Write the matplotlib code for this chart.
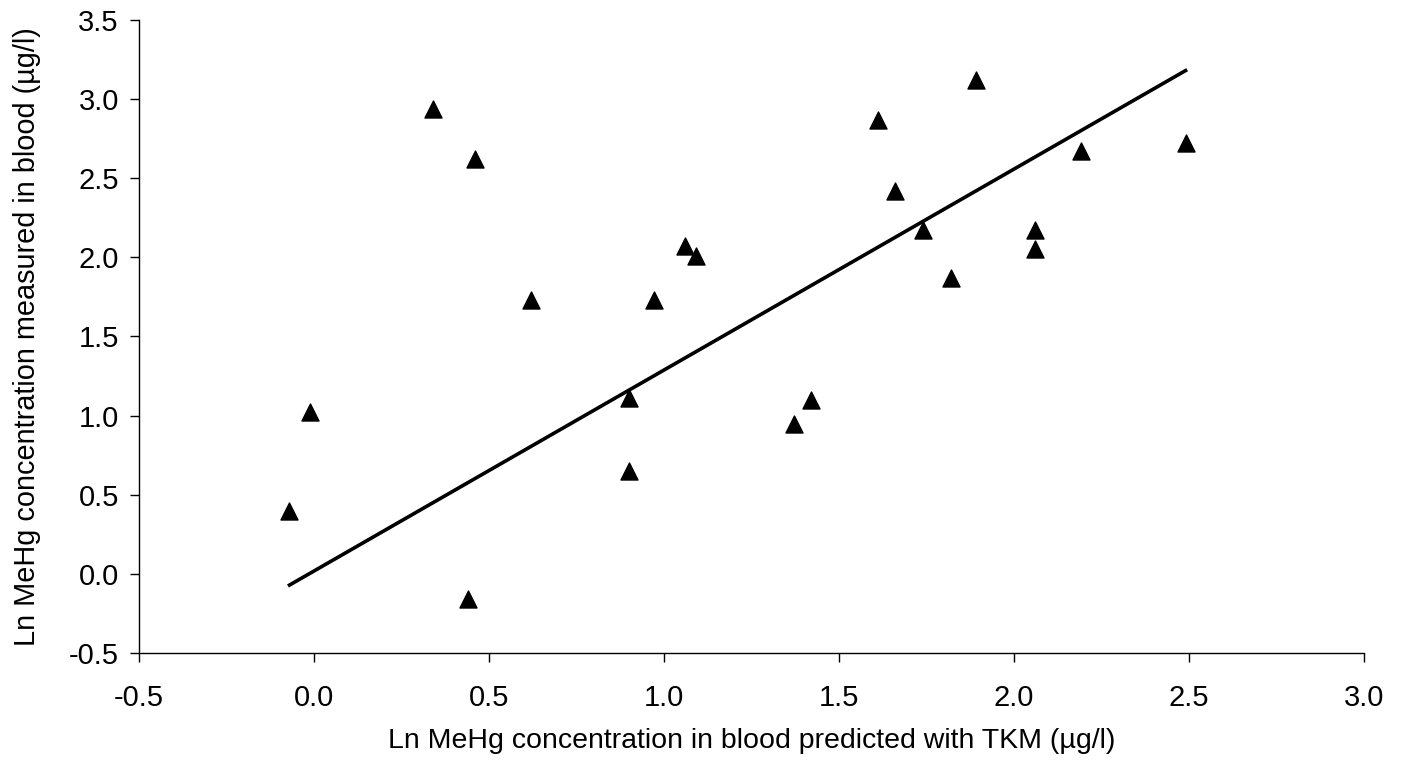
import matplotlib.pyplot as plt

# Ln MeHg predicted (TKM) vs measured in blood
predicted = [-0.07, -0.01, 0.34, 0.46, 0.44, 0.62, 0.90, 0.90, 0.97, 1.06, 1.09,
             1.37, 1.42, 1.61, 1.66, 1.74, 1.82, 1.89, 2.06, 2.06, 2.19, 2.49]
measured = [0.40, 1.02, 2.94, 2.62, -0.16, 1.73, 1.11, 0.65, 1.73, 2.07, 2.01,
            0.95, 1.10, 2.87, 2.42, 2.17, 1.87, 3.12, 2.17, 2.05, 2.67, 2.72]
# regression line
fit_slope = 1.27
fit_intercept = 0.018

xticks = [-0.5, 0.0, 0.5, 1.0, 1.5, 2.0, 2.5, 3.0]
yticks = [-0.5, 0.0, 0.5, 1.0, 1.5, 2.0, 2.5, 3.0, 3.5]

plt.rcParams['font.family'] = ['Liberation Sans', 'DejaVu Sans']

fig = plt.figure(figsize=(14.08, 7.6), dpi=100)
ax = fig.add_axes([0.0987, 0.1408, 0.8701, 0.8329])

ax.scatter(predicted, measured, marker='^', s=150, color='black', zorder=3)

x0, x1 = min(predicted), max(predicted)
ax.plot([x0, x1], [fit_intercept + fit_slope * x0, fit_intercept + fit_slope * x1],
        color='black', lw=2.6, zorder=2)

ax.set_xlim(-0.5, 3.0)
ax.set_ylim(-0.5, 3.5)
ax.set_xticks(xticks)
ax.set_yticks(yticks)
ax.set_xticklabels([f"{t:.1f}" for t in xticks])
ax.set_yticklabels([f"{t:.1f}" for t in yticks])
ax.spines['top'].set_visible(False)
ax.spines['right'].set_visible(False)
for s in ('left', 'bottom'):
    ax.spines[s].set_linewidth(1.0)
ax.tick_params(direction='out', length=6.5, width=1.0, labelsize=21)
ax.tick_params(axis='x', pad=16)
ax.tick_params(axis='y', pad=8)

ax.set_xlabel('Ln MeHg concentration in blood predicted with TKM (µg/l)',
              fontsize=20.5, labelpad=11)
ax.set_ylabel('Ln MeHg concentration measured in blood (µg/l)',
              fontsize=20.8, labelpad=20)

fig.savefig('out.png', dpi=100)
